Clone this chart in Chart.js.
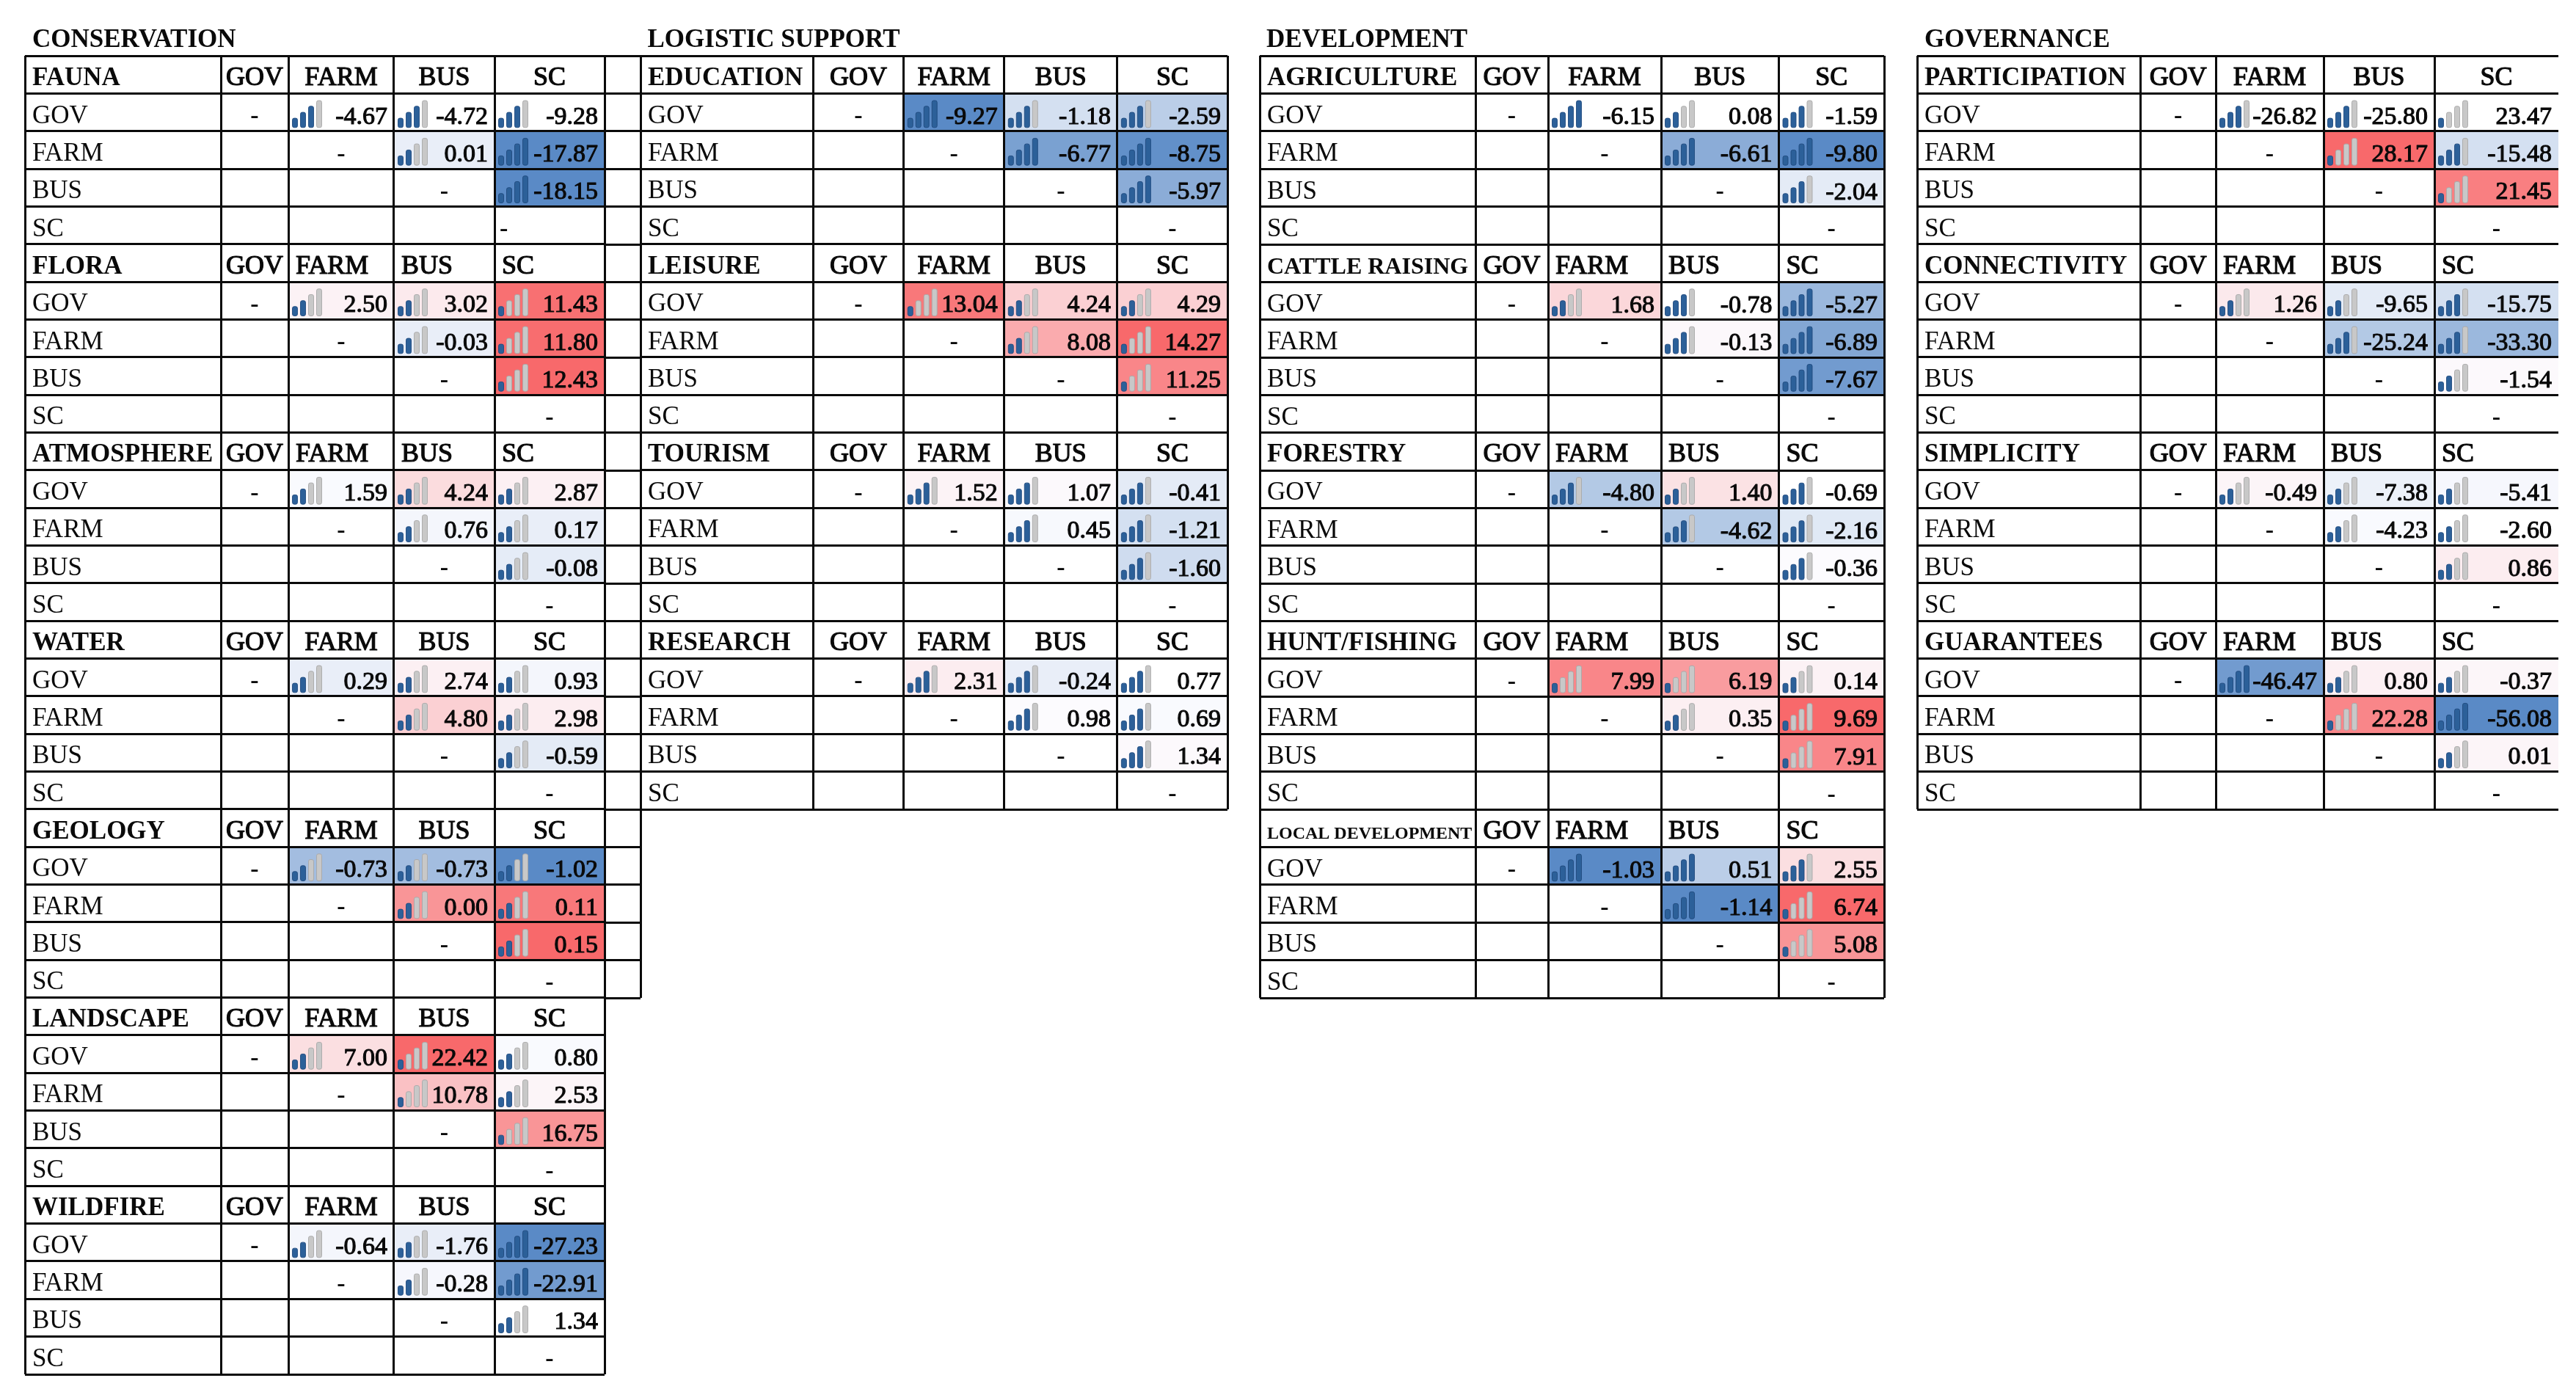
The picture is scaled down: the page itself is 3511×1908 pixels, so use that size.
<!DOCTYPE html>
<html><head><meta charset="utf-8">
<script src="https://cdn.jsdelivr.net/npm/chart.js@4/dist/chart.umd.min.js"></script>
<style>html,body{margin:0;padding:0;background:#fff;width:3511px;height:1908px;overflow:hidden}canvas{position:absolute;top:0}</style>
</head><body>
<script>
// ---------- data ----------
const panelTitles = ['CONSERVATION','LOGISTIC SUPPORT','DEVELOPMENT','GOVERNANCE'];
const rowLabels = ['GOV','FARM','BUS','SC'];
const colLabels = ['GOV','FARM','BUS','SC'];

const conservationTables = ['FAUNA','FLORA','ATMOSPHERE','WATER','GEOLOGY','LANDSCAPE','WILDFIRE'];
const logisticTables = ['EDUCATION','LEISURE','TOURISM','RESEARCH'];
const developmentTables = ['AGRICULTURE','CATTLE RAISING','FORESTRY','HUNT/FISHING','LOCAL DEVELOPMENT'];
const governanceTables = ['PARTICIPATION','CONNECTIVITY','SIMPLICITY','GUARANTEES'];

// Upper-triangle cells per table: GOV-FARM, GOV-BUS, GOV-SC, FARM-BUS, FARM-SC, BUS-SC
const conservationValues = [
  [-4.67,-4.72,-9.28,0.01,-17.87,-18.15],
  [2.50,3.02,11.43,-0.03,11.80,12.43],
  [1.59,4.24,2.87,0.76,0.17,-0.08],
  [0.29,2.74,0.93,4.80,2.98,-0.59],
  [-0.73,-0.73,-1.02,0.00,0.11,0.15],
  [7.00,22.42,0.80,10.78,2.53,16.75],
  [-0.64,-1.76,-27.23,-0.28,-22.91,1.34]];
const logisticValues = [
  [-9.27,-1.18,-2.59,-6.77,-8.75,-5.97],
  [13.04,4.24,4.29,8.08,14.27,11.25],
  [1.52,1.07,-0.41,0.45,-1.21,-1.60],
  [2.31,-0.24,0.77,0.98,0.69,1.34]];
const developmentValues = [
  [-6.15,0.08,-1.59,-6.61,-9.80,-2.04],
  [1.68,-0.78,-5.27,-0.13,-6.89,-7.67],
  [-4.80,1.40,-0.69,-4.62,-2.16,-0.36],
  [7.99,6.19,0.14,0.35,9.69,7.91],
  [-1.03,0.51,2.55,-1.14,6.74,5.08]];
const governanceValues = [
  [-26.82,-25.80,23.47,28.17,-15.48,21.45],
  [1.26,-9.65,-15.75,-25.24,-33.30,-1.54],
  [-0.49,-7.38,-5.41,-4.23,-2.60,0.86],
  [-46.47,0.80,-0.37,22.28,-56.08,0.01]];

// Colour-scale position of each cell (-1 full blue, 0 white, 1 full red)
const conservationTones = [
  [0,0,0,-.12,-1,-1],
  [.07,.12,.95,-.12,.97,1],
  [-.02,.22,.08,-.05,-.12,-.14],
  [-.12,.08,-.05,.3,.1,-.15],
  [-.55,-.55,-1,.7,.9,1],
  [.2,1,-.02,.4,.05,.7],
  [-.05,-.12,-1,-.04,-.85,0]];
const logisticTones = [
  [-1,-.25,-.4,-.8,-.95,-.7],
  [.9,.3,.3,.55,1,.8],
  [.06,.02,-.15,-.03,-.25,-.28],
  [.1,-.12,0,.01,-.02,.02]];
const developmentTones = [
  [0,0,0,-.7,-1,-.15],
  [.25,0,-.6,.03,-.75,-.85],
  [-.45,.18,0,-.45,-.17,.01],
  [.8,.65,.07,.09,1,.8],
  [-1,-.4,.2,-1,1,.7]];
const governanceTones = [
  [0,0,0,1,-.25,.85],
  [.13,-.15,-.25,-.45,-.6,.02],
  [.05,-.1,-.04,-.02,0,.1],
  [-.85,.08,.04,.8,-1,.05]];

// Number of blue bars in each cell's signal icon
const conservationIcons = [
  [3,3,3,2,4,4],[2,2,1,2,1,1],[2,2,2,2,2,2],[2,2,2,2,2,2],[2,2,2,2,2,2],[2,1,2,1,2,1],[2,2,4,2,4,2]];
const logisticIcons = [
  [4,3,3,4,4,4],[1,2,2,2,1,1],[3,3,3,3,3,3],[3,3,3,3,3,3]];
const developmentIcons = [
  [4,2,3,4,4,3],[2,3,4,3,4,4],[3,2,3,3,3,3],[1,1,2,2,1,1],[4,4,3,4,1,1]];
const governanceIcons = [
  [3,3,1,1,3,1],[2,2,3,3,3,2],[2,2,2,2,2,2],[4,2,2,1,4,2]];

// Header alignment per table ('c' centred, 'l' left)
const conservationHeads = ['c','l','l','c','c','c','c'];
const logisticHeads = ['c','c','c','c'];
const developmentHeads = ['c','l','l','l','l'];
const governanceHeads = ['c','l','l','l'];

// ---------- layout ----------
const TOP = 76.3, ROW = 51.31, PAD = 6;
const FONT = '"Liberation Serif"';
const INK = '#0a0a0a';
const BLUE = [0x5A,0x8A,0xC6], MID = [0xFC,0xFC,0xFF], RED = [0xF8,0x69,0x6B];
const colEdges = [
  [34,301,393,537,674,824],
  [872.5,1107.5,1231,1368,1522,1672],
  [1717,2011,2110,2264,2424.5,2568],
  [2613,2917.5,3020,3167,3318,3487]];
const titleX = [44,882,1726,2623];
const smallNames = {'LOCAL DEVELOPMENT':24,'CATTLE RAISING':32};

function toneColor(t){
  if(!t) return 'rgb(255,255,255)';
  const e = t<0 ? BLUE : RED, a = Math.abs(t);
  return 'rgb('+MID.map((m,i)=>Math.round(m+(e[i]-m)*a)).join(',')+')';
}
// index of the upper-triangle cell (row r, col c)
const TRI = [[-1,0,1,2],[-1,-1,3,4],[-1,-1,-1,5],[-1,-1,-1,-1]];
const triIndex = (r,c) => TRI[r][c];

function heavyText(ctx,s,x,y,w){
  ctx.fillText(s,x,y);
  ctx.lineWidth=w;ctx.strokeStyle=INK;ctx.lineJoin='round';
  ctx.strokeText(s,x,y);
}
function icon(ctx,x,bottom,level){
  const h=[12.7,20.7,29,36.7];
  for(let i=0;i<4;i++){
    const bx=x+i*11, on=i<level;
    ctx.beginPath();
    ctx.roundRect(bx,bottom-h[i],7,h[i],2.4);
    ctx.fillStyle=on?'#2c6099':'#c8c8c8';
    ctx.fill();
    ctx.lineWidth=.9;
    ctx.strokeStyle=on?'#1f4a7e':'#a8a8a8';
    ctx.stroke();
  }
}

function makePanel(idx,tables,values,tones,icons,heads){
  const edges=colEdges[idx];
  const labels=[]; tables.forEach(t=>{labels.push(t); rowLabels.forEach(r=>labels.push(r));});
  const datasets=[1,2,3].map(c=>({
    label:colLabels[c],
    data:labels.map((_,i)=>{
      const r=i%5-1; const k=r>=0?triIndex(r,c):-1;
      return k>=0?[edges[c+1],edges[c+2]]:null;
    }),
    backgroundColor:labels.map((_,i)=>{
      const r=i%5-1; const k=r>=0?triIndex(r,c):-1;
      return k>=0?toneColor(tones[Math.floor(i/5)][k]):'rgba(0,0,0,0)';
    }),
    borderWidth:0,barPercentage:1,categoryPercentage:1,grouped:false
  }));
  const cv=document.createElement('canvas');
  const w=edges[5]-edges[0]+2*PAD, h=TOP+labels.length*ROW+PAD;
  cv.width=Math.round(w); cv.height=Math.ceil(h);
  cv.style.cssText='left:'+(edges[0]-PAD)+'px;width:'+Math.round(w)+'px;height:'+Math.ceil(h)+'px';
  document.body.appendChild(cv);
  const textPlugin={id:'tableText',afterDraw(chart){
    const ctx=chart.ctx,xS=chart.scales.x,yS=chart.scales.y;
    ctx.save();
    ctx.fillStyle=INK;ctx.textBaseline='alphabetic';
    ctx.textAlign='left';ctx.font='bold 35px '+FONT;
    ctx.fillText(panelTitles[idx],titleX[idx]-edges[0]+PAD,64);
    const px=v=>xS.getPixelForValue(v);
    labels.forEach((lab,i)=>{
      const y=yS.getPixelForValue(i), t=Math.floor(i/5), r=i%5-1;
      ctx.fillStyle=INK;
      ctx.textAlign='left';
      if(r<0){
        ctx.font='bold '+(smallNames[lab]||35)+'px '+FONT;
        ctx.fillText(lab,px(edges[0])+10,y+14);
        ctx.font='36px '+FONT;
        colLabels.forEach((cl,c)=>{
          const a=px(edges[c+1]),b=px(edges[c+2]);
          if(heads[t]==='l'&&c>0){ctx.textAlign='left';heavyText(ctx,cl,a+10,y+14,1.2);}
          else{ctx.textAlign='center';heavyText(ctx,cl,(a+b)/2,y+14,1.2);}
        });
      }else{
        ctx.font='35px '+FONT;
        ctx.fillText(lab,px(edges[0])+10,y+14.5);
        colLabels.forEach((cl,c)=>{
          const a=px(edges[c+1]),b=px(edges[c+2]);
          ctx.fillStyle=INK;
          if(c===r){
            const left=(idx===0&&t===0&&r===3);
            ctx.font='bold 34px '+FONT;
            ctx.textAlign=left?'left':'center';
            ctx.fillText('-',left?a+7:(a+b)/2,y+15);
          }else if(c>r){
            const k=triIndex(r,c);
            icon(ctx,a+5.5,y+20.5,icons[t][k]);
            ctx.fillStyle=INK;ctx.textAlign='right';
            ctx.font='34px '+FONT;
            heavyText(ctx,values[t][k].toFixed(2),b-9,y+15.5,1.1);
          }
        });
      }
    });
    ctx.restore();
  }};
  new Chart(cv,{
    type:'bar',
    data:{labels,datasets},
    plugins:[textPlugin],
    options:{
      indexAxis:'y',responsive:false,animation:false,devicePixelRatio:1,
      layout:{padding:{left:PAD,right:PAD,top:TOP,bottom:PAD}},
      plugins:{legend:{display:false},tooltip:{enabled:false},title:{display:false}},
      scales:{
        x:{type:'linear',position:'top',min:edges[0],max:edges[5],
          afterBuildTicks(s){s.ticks=(idx===3?edges.slice(0,5):edges).map(value=>({value}));},
          ticks:{display:false,autoSkip:false},border:{display:false},
          grid:{color:INK,lineWidth:3,drawTicks:false,z:1}},
        y:{type:'category',offset:true,
          ticks:{display:false,autoSkip:false},border:{display:false},
          grid:{offset:true,color:INK,lineWidth:3,drawTicks:false,z:1}}
      }
    }
  });
}
makePanel(0,conservationTables,conservationValues,conservationTones,conservationIcons,conservationHeads);
makePanel(1,logisticTables,logisticValues,logisticTones,logisticIcons,logisticHeads);
makePanel(2,developmentTables,developmentValues,developmentTones,developmentIcons,developmentHeads);
makePanel(3,governanceTables,governanceValues,governanceTones,governanceIcons,governanceHeads);

// Empty spare column between the first two panels (25 rows, no values)
(function(){
  const a=824,b=872.5,rows=25;
  const cv=document.createElement('canvas');
  const w=Math.round(b-a+2*PAD),h=Math.ceil(TOP+rows*ROW+PAD);
  cv.width=w;cv.height=h;
  cv.style.cssText='left:'+(a-PAD)+'px;width:'+w+'px;height:'+h+'px';
  document.body.appendChild(cv);
  new Chart(cv,{type:'bar',
    data:{labels:Array(rows).fill(''),datasets:[{data:[]}]},
    options:{indexAxis:'y',responsive:false,animation:false,devicePixelRatio:1,
      layout:{padding:{left:PAD,right:PAD,top:TOP,bottom:PAD}},
      plugins:{legend:{display:false},tooltip:{enabled:false}},
      scales:{
        x:{type:'linear',position:'top',min:a,max:b,
          afterBuildTicks(s){s.ticks=[a,b].map(value=>({value}));},
          ticks:{display:false,autoSkip:false},border:{display:false},
          grid:{color:INK,lineWidth:3,drawTicks:false,z:1}},
        y:{type:'category',offset:true,ticks:{display:false,autoSkip:false},border:{display:false},
          grid:{offset:true,color:INK,lineWidth:3,drawTicks:false,z:1}}
      }}});
})();
</script>
</body></html>
